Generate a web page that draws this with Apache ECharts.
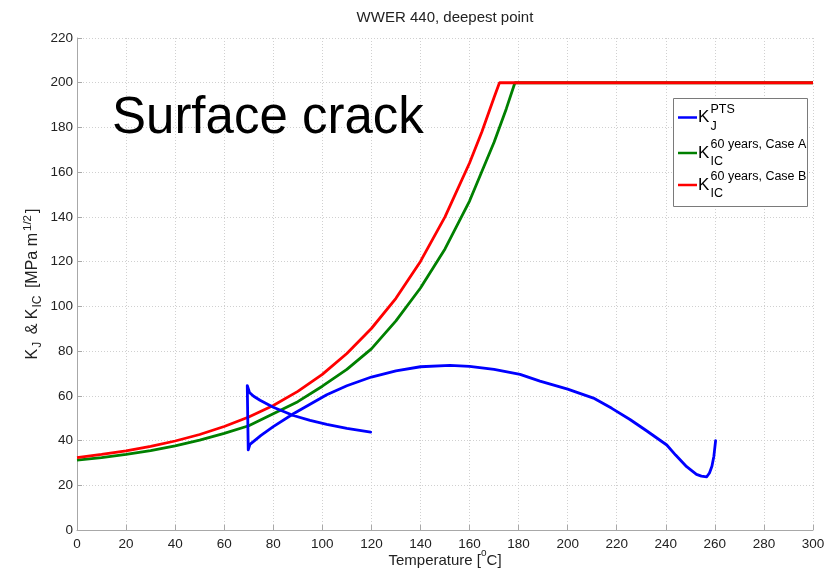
<!DOCTYPE html>
<html>
<head>
<meta charset="utf-8">
<script src="https://cdn.jsdelivr.net/npm/echarts@6/dist/echarts.min.js"></script>
<style>
html,body{margin:0;padding:0;background:#fff;}
#chart{width:831px;height:574px;}
</style>
</head>
<body>
<div id="chart"></div>
<script>
// Case B (red) K_IC curve
const caseBTemp = [0,10,20,30,40,50,60,70,80,90,100,110,120,130,140,150,160,165,170,172.2,300];
const caseBK    = [32.4,33.8,35.4,37.4,39.8,42.7,46.3,50.5,55.7,62.0,69.6,78.9,90.1,103.6,120.1,140.0,164.1,178.0,193.4,200,200];
// Case A (green) K_IC curve
const caseATemp = [0,10,20,30,40,50,60,70,80,90,100,110,120,130,140,150,160,170,175,178.5,300];
const caseAK    = [31.2,32.4,33.8,35.5,37.6,40.2,43.2,46.6,52.0,57.4,64.3,71.8,81.0,93.5,108.2,125.7,147.1,173.4,188.4,200,200];
// K_J PTS (blue) path
const ptsTemp = [260.3,259.6,258.8,257.8,256.7,254.5,252.5,248.5,244,240.4,232,225.4,218,210.5,200,188.7,180.6,170,160,152,140,130,120,110,101.8,95,88.2,80,75,70.5,69.8,69.6,69.4,70.3,72,74.6,80,88.2,95,101.8,110,119.7];
const ptsK    = [40.0,33.0,28.5,25.5,23.8,24.1,24.9,28.3,33.5,38.0,44.5,49.4,54.4,59.0,63.0,66.6,69.6,71.8,73.2,73.6,73.0,71.2,68.4,64.5,60.5,56.2,52.0,46.2,42.3,38.3,35.8,50.0,64.6,61.5,59.8,58.0,54.9,51.2,49.0,47.2,45.4,43.8];
// tick labels
const xTicks = {min:0, max:300, step:20};
const yTicks = {min:0, max:220, step:20};
const titleText = 'WWER 440, deepest point';
const noteText = 'Surface crack';

const pairs = (a,b) => a.map((v,i)=>[v,b[i]]);

const FONT = '"Liberation Sans", Arial, Helvetica, sans-serif';
const axisCommon = {
  axisLine:{show:true,lineStyle:{color:'#a8a8a8',width:1}},
  axisTick:{show:true,inside:true,length:5,lineStyle:{color:'#a8a8a8'}},
  splitLine:{show:true,lineStyle:{color:'#d0d0d0',type:[1,2],width:1}},
  axisLabel:{color:'#222',fontSize:13.5,fontFamily:FONT}
};

const chart = echarts.init(document.getElementById('chart'),null,{renderer:'canvas'});
const legendItems = [
  {color:'#0000ff', sup:'PTS', sub:'J', y:117.5},
  {color:'#008000', sup:'60 years, Case A', sub:'IC', y:153},
  {color:'#ff0000', sup:'60 years, Case B', sub:'IC', y:185}
];
const legendGraphics = [{
  type:'rect', shape:{x:673.5,y:98.5,width:134,height:108},
  style:{fill:'#fff',stroke:'#7a7a7a',lineWidth:1}, z:10
}];
legendItems.forEach(it=>{
  legendGraphics.push({type:'line',shape:{x1:678,y1:it.y,x2:697,y2:it.y},style:{stroke:it.color,lineWidth:2.5},z:11});
  legendGraphics.push({type:'text',x:698,y:it.y,style:{text:'K',fontSize:17,fontFamily:FONT,fill:'#000',verticalAlign:'middle',align:'left'},z:11});
  legendGraphics.push({type:'text',x:710.5,y:it.y-8,style:{text:it.sup,fontSize:12.5,fontFamily:FONT,fill:'#000',verticalAlign:'middle',align:'left'},z:11});
  legendGraphics.push({type:'text',x:710.5,y:it.y+9,style:{text:it.sub,fontSize:12.5,fontFamily:FONT,fill:'#000',verticalAlign:'middle',align:'left'},z:11});
});

chart.setOption({
  animation:false,
  backgroundColor:'#fff',
  grid:{left:77,right:18,top:38,bottom:44,containLabel:false,outerBoundsMode:'none'},
  xAxis:Object.assign({}, axisCommon, {
    type:'value', min:xTicks.min, max:xTicks.max, interval:xTicks.step,
    axisLabel:Object.assign({},axisCommon.axisLabel,{margin:7}),
    name:'{m|Temperature [}{s|o}{m|C]}', nameLocation:'middle', nameGap:18, nameMoveOverlap:false,
    nameTextStyle:{rich:{
      m:{fontSize:15,fontFamily:FONT,color:'#222',lineHeight:20,verticalAlign:'bottom'},
      s:{fontSize:10,fontFamily:FONT,color:'#222',lineHeight:20,verticalAlign:'top'}
    }}
  }),
  yAxis:Object.assign({}, axisCommon, {
    type:'value', min:yTicks.min, max:yTicks.max, interval:yTicks.step,
    axisLabel:Object.assign({},axisCommon.axisLabel,{margin:4}),
    name:'{m|K}{b|J}{m| & K}{b|IC}{m| [MPa m}{t|1/2}{m|]}', nameLocation:'middle', nameGap:33, nameRotate:90, nameMoveOverlap:false,
    nameTextStyle:{rich:{
      m:{fontSize:16,fontFamily:FONT,color:'#222',lineHeight:22,verticalAlign:'middle'},
      b:{fontSize:12,fontFamily:FONT,color:'#222',lineHeight:22,verticalAlign:'bottom',padding:[0,3,0,1]},
      t:{fontSize:11.5,fontFamily:FONT,color:'#222',lineHeight:22,verticalAlign:'top',padding:[0,2,0,2]}
    }}
  }),
  series:[
    {type:'line',name:'K_IC 60 years, Case A',data:pairs(caseATemp,caseAK),showSymbol:false,symbol:'none',lineStyle:{color:'#008000',width:2.8},z:3},
    {type:'line',name:'K_IC 60 years, Case B',data:pairs(caseBTemp,caseBK),showSymbol:false,symbol:'none',lineStyle:{color:'#ff0000',width:2.8},z:4},
    {type:'line',name:'K_J PTS',data:pairs(ptsTemp,ptsK),showSymbol:false,symbol:'none',lineStyle:{color:'#0000ff',width:2.8,join:'round',cap:'round'},z:5}
  ],
  graphic:[
    {type:'text',x:445,y:18,style:{text:titleText,fontSize:15,fontFamily:FONT,fill:'#222',align:'center',verticalAlign:'middle'}},
    {type:'text',x:112,y:118.5,style:{text:noteText,fontSize:51,fontFamily:FONT,fill:'#000',align:'left',verticalAlign:'middle'},z:9}
  ].concat(legendGraphics)
});
</script>
</body>
</html>
